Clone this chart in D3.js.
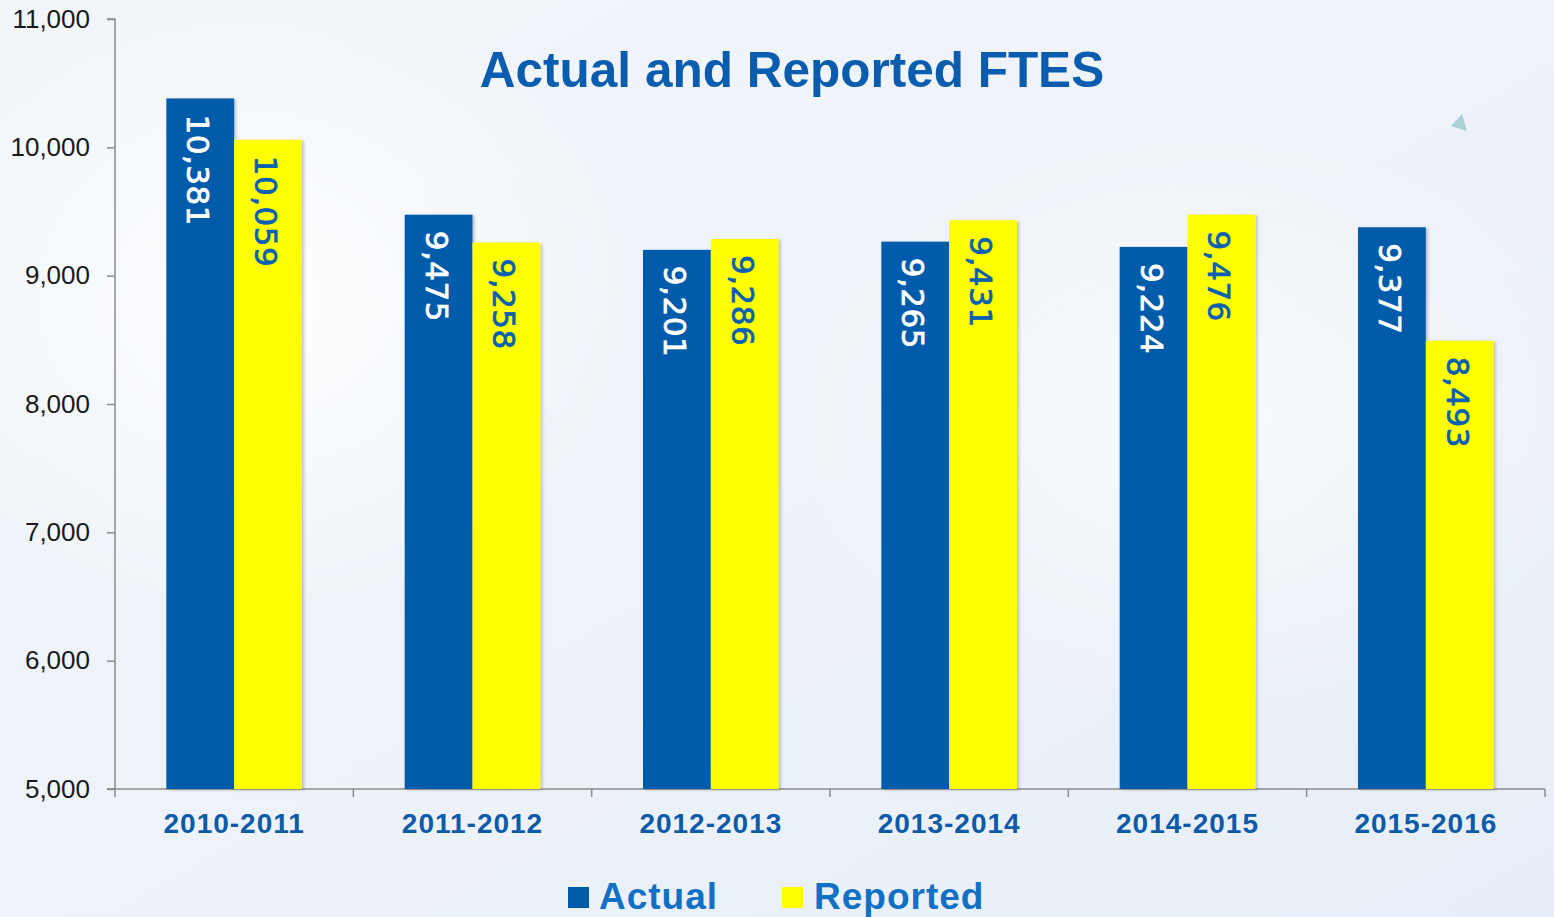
<!DOCTYPE html>
<html>
<head>
<meta charset="utf-8">
<script src="https://cdn.jsdelivr.net/npm/d3@7"></script>
<style>
  body { margin: 0; background: #eef3f9; }
  svg { display: block; }
</style>
</head>
<body>
<div id="chart"></div>
<script>
const categories = ["2010-2011", "2011-2012", "2012-2013", "2013-2014", "2014-2015", "2015-2016"];
const seriesNames = ["Actual", "Reported"];
const actual = [10381, 9475, 9201, 9265, 9224, 9377];
const reported = [10059, 9258, 9286, 9431, 9476, 8493];
const yTicks = [5000, 6000, 7000, 8000, 9000, 10000, 11000];

const width = 1554;
const height = 917;
const colors = { Actual: "#005bab", Reported: "#ffff00" };

const svg = d3.select("#chart").append("svg")
    .attr("width", width)
    .attr("height", height);

// background: pale blue wash with a soft white glow
const defs = svg.append("defs");
const bg = defs.append("linearGradient").attr("id", "bg")
    .attr("x1", 0).attr("y1", 0).attr("x2", 1).attr("y2", 1);
bg.append("stop").attr("offset", "0%").attr("stop-color", "#f2f6fb");
bg.append("stop").attr("offset", "50%").attr("stop-color", "#eef3f9");
bg.append("stop").attr("offset", "100%").attr("stop-color", "#e7eef7");
const glow = defs.append("radialGradient").attr("id", "glow");
glow.append("stop").attr("offset", "0%").attr("stop-color", "#ffffff").attr("stop-opacity", 0.9);
glow.append("stop").attr("offset", "100%").attr("stop-color", "#ffffff").attr("stop-opacity", 0);
const shadow = defs.append("filter").attr("id", "shadow")
    .attr("x", "-10%").attr("y", "-10%").attr("width", "130%").attr("height", "130%");
shadow.append("feDropShadow").attr("dx", 2).attr("dy", 1).attr("stdDeviation", 1.5)
    .attr("flood-color", "#000").attr("flood-opacity", 0.22);

svg.append("rect").attr("width", width).attr("height", height).attr("fill", "url(#bg)");
svg.append("ellipse").attr("cx", 260).attr("cy", 300).attr("rx", 380).attr("ry", 320).attr("fill", "url(#glow)");
svg.append("ellipse").attr("cx", 1200).attr("cy", 420).attr("rx", 420).attr("ry", 300).attr("fill", "url(#glow)").attr("opacity", 0.7);

// small decorative triangle top right
svg.append("path")
    .attr("d", "M1451,126 L1462,114 L1467,131 Z")
    .attr("fill", "#a8d2d8");

// scales
const y = d3.scaleLinear().domain([5000, 11000]).range([789, 19]);
const x = d3.scaleBand().domain(categories).range([115, 1545]);
const x1 = d3.scaleBand().domain(seriesNames).range([0, x.bandwidth()]).paddingOuter(0.757);

// y axis
svg.append("g")
    .attr("transform", "translate(115,0)")
    .call(d3.axisLeft(y).tickValues(yTicks).tickFormat(d3.format(",")).tickSize(8).tickPadding(17))
    .call(g => g.select(".domain").attr("stroke", "#8c8c8c").attr("stroke-width", 1.5)
        .attr("d", "M-8,789H0V19H-8"))
    .call(g => g.selectAll(".tick line").attr("stroke", "#8c8c8c").attr("stroke-width", 1.5))
    .call(g => g.selectAll(".tick text")
        .attr("fill", "#1a1a1a")
        .style("font-family", "'Liberation Sans', Arial, sans-serif")
        .style("font-size", "26px"));

// x axis: line plus ticks at category boundaries
const xAxis = svg.append("g");
xAxis.append("line")
    .attr("x1", 107).attr("x2", 1545).attr("y1", 789).attr("y2", 789)
    .attr("stroke", "#8c8c8c").attr("stroke-width", 1.5);
xAxis.selectAll("line.tick")
    .data(categories.map(c => x(c)).concat([x.range()[1]]))
    .join("line")
    .attr("class", "tick")
    .attr("x1", d => d).attr("x2", d => d)
    .attr("y1", 789).attr("y2", 797)
    .attr("stroke", "#8c8c8c").attr("stroke-width", 1.5);
xAxis.selectAll("text")
    .data(categories)
    .join("text")
    .attr("x", d => x(d) + x.bandwidth() / 2)
    .attr("y", 833)
    .attr("text-anchor", "middle")
    .attr("fill", "#0c5aa8")
    .style("font-family", "'Liberation Sans', Arial, sans-serif")
    .style("font-weight", "bold")
    .style("font-size", "28px")
    .style("letter-spacing", "1px")
    .text(d => d);

// bars
const rows = categories.map((c, i) => ({ cat: c, Actual: actual[i], Reported: reported[i] }));
const groups = svg.append("g").selectAll("g")
    .data(rows)
    .join("g")
    .attr("transform", d => `translate(${x(d.cat)},0)`);

groups.selectAll("rect")
    .data(d => seriesNames.map(s => ({ key: s, value: d[s] })))
    .join("rect")
    .attr("x", d => x1(d.key))
    .attr("y", d => y(d.value))
    .attr("width", x1.bandwidth())
    .attr("height", d => y(5000) - y(d.value))
    .attr("fill", d => colors[d.key])
    .attr("filter", "url(#shadow)");

// rotated value labels
groups.selectAll("text")
    .data(d => seriesNames.map(s => ({ key: s, value: d[s] })))
    .join("text")
    .attr("transform", d => `translate(${x1(d.key) + x1.bandwidth() / 2 - 2},${y(d.value) + 16}) rotate(90)`)
    .attr("dominant-baseline", "central")
    .attr("fill", d => d.key === "Actual" ? "#ffffff" : "#0a5fb0")
    .attr("stroke", d => d.key === "Actual" ? "#ffffff" : "#0a5fb0")
    .attr("stroke-width", 0.7)
    .style("font-family", "'DejaVu Sans', Verdana, sans-serif")
    .style("font-size", "31px")
    .style("letter-spacing", "0.5px")
    .text(d => d3.format(",")(d.value));

// title
svg.append("text")
    .attr("x", 792)
    .attr("y", 87)
    .attr("text-anchor", "middle")
    .attr("fill", "#0a5cae")
    .style("font-family", "'Liberation Sans', Arial, sans-serif")
    .style("font-weight", "bold")
    .style("font-size", "49.5px")
    .text("Actual and Reported FTES");

// legend
const legendX = [568, 782];
const legend = svg.append("g").selectAll("g")
    .data(seriesNames)
    .join("g")
    .attr("transform", (d, i) => `translate(${legendX[i]},887)`);
legend.append("rect")
    .attr("width", 21).attr("height", 21)
    .attr("fill", d => colors[d]);
legend.append("text")
    .attr("x", (d, i) => i === 0 ? 31 : 32)
    .attr("y", 22)
    .attr("fill", "#1170c4")
    .style("font-family", "'Liberation Sans', Arial, sans-serif")
    .style("font-weight", "bold")
    .style("font-size", "37px")
    .style("letter-spacing", "1px")
    .text(d => d);
</script>
</body>
</html>
